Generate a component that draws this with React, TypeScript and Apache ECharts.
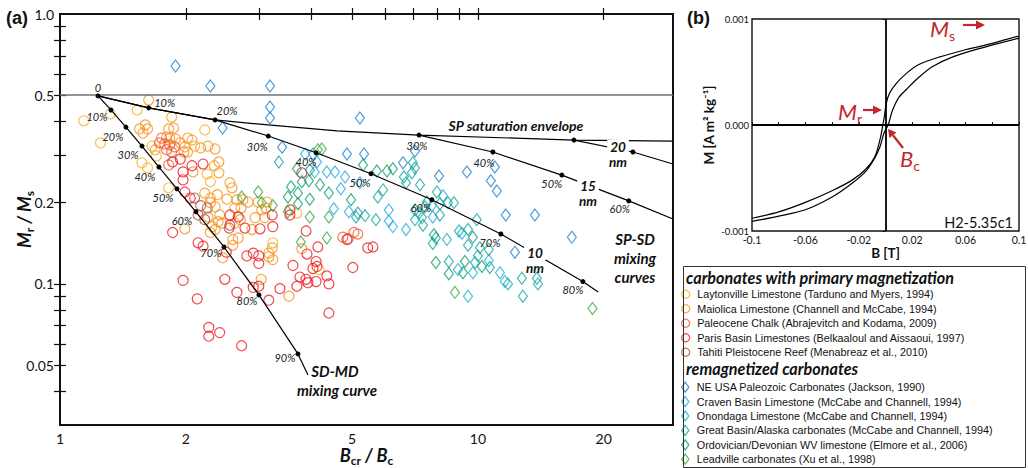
import React, { useEffect, useRef } from 'react';
import * as echarts from 'echarts';

// ---------- Panel (a): [Bcr/Bc, Mr/Ms] ----------
const laytonville = [[1.14,0.402],[1.25,0.333],[1.32,0.426],[1.53,0.441],[2.22,0.372],[1.66,0.324],[1.70,0.298],[2.10,0.324],[1.57,0.281],[1.62,0.269],[2.25,0.255],[2.29,0.239],[1.82,0.227],[3.69,0.183],[3.23,0.142],[4.17,0.113]];
const maiolica = [[1.63,0.480],[1.85,0.415],[1.55,0.375],[1.60,0.388],[1.62,0.375],[1.58,0.362],[1.82,0.375],[1.87,0.378],[1.80,0.350],[1.83,0.347],[1.89,0.344],[2.02,0.347],[1.99,0.322],[1.98,0.308],[2.17,0.319],[2.26,0.324],[2.35,0.316],[1.69,0.314],[2.34,0.274],[2.40,0.283],[2.40,0.258],[2.08,0.260],[2.55,0.237],[2.58,0.227],[2.22,0.217],[2.29,0.208],[2.38,0.214],[2.51,0.206],[2.02,0.308],[2.29,0.200],[2.35,0.193],[2.26,0.177],[2.41,0.180],[2.44,0.168],[2.31,0.163],[2.35,0.159],[2.29,0.155],[1.99,0.160],[2.45,0.125],[2.65,0.205],[2.74,0.205],[2.82,0.201],[2.62,0.191],[2.71,0.191],[2.98,0.201],[3.13,0.201],[3.04,0.188],[3.11,0.191],[2.70,0.173],[2.62,0.168],[2.88,0.159],[2.93,0.176],[3.09,0.176],[2.59,0.146],[2.67,0.148],[2.59,0.139],[3.16,0.130],[3.16,0.126],[3.23,0.123],[3.22,0.136],[3.79,0.135],[3.03,0.104],[3.53,0.090],[2.39,0.170],[1.94,0.333],[2.07,0.341]];
const paleocene = [[1.75,0.347],[1.73,0.333],[1.78,0.330],[1.83,0.327],[1.85,0.308],[1.82,0.276],[1.88,0.322],[1.80,0.314],[4.75,0.149],[4.89,0.147],[5.05,0.155],[5.16,0.153]];
const parisBasin = [[1.86,0.283],[1.94,0.290],[1.97,0.260],[1.97,0.243],[2.07,0.274],[2.20,0.278],[1.99,0.219],[2.05,0.208],[2.55,0.180],[2.55,0.165],[1.86,0.155],[2.14,0.142],[2.20,0.138],[2.50,0.131],[1.97,0.103],[2.48,0.104],[2.13,0.088],[2.27,0.069],[2.27,0.064],[2.41,0.066],[3.79,0.258],[3.55,0.188],[3.55,0.180],[3.22,0.180],[2.67,0.177],[2.77,0.161],[3.01,0.160],[3.23,0.163],[3.88,0.157],[2.80,0.127],[2.90,0.130],[2.99,0.127],[2.99,0.119],[3.90,0.129],[4.14,0.137],[3.61,0.117],[4.10,0.121],[4.12,0.116],[4.03,0.114],[3.75,0.106],[3.88,0.104],[3.92,0.101],[4.10,0.102],[4.35,0.107],[4.40,0.100],[3.69,0.098],[3.36,0.096],[2.99,0.098],[2.90,0.097],[2.65,0.093],[3.16,0.087],[4.40,0.078],[2.72,0.059],[4.86,0.146],[5.45,0.136],[5.61,0.137],[5.02,0.115]];
const tahiti = [[2.10,0.208],[2.17,0.195],[2.25,0.191],[2.14,0.180],[2.54,0.161],[2.22,0.173]];
const neUsa = [[1.89,0.642],[2.29,0.541],[3.18,0.541],[3.18,0.452],[3.18,0.412],[5.22,0.412],[2.45,0.378],[3.40,0.321],[7.07,0.311],[4.86,0.303],[5.34,0.303],[6.62,0.281],[8.07,0.251],[9.41,0.260],[10.98,0.271],[10.74,0.241],[11.10,0.221],[11.66,0.180],[13.69,0.180],[16.78,0.149],[12.26,0.131]];
const craven = [[3.86,0.303],[4.03,0.303],[4.12,0.283],[4.07,0.260],[4.35,0.260],[4.55,0.260],[4.81,0.249],[5.22,0.237],[4.70,0.225],[4.52,0.190],[4.91,0.185],[6.12,0.188],[6.12,0.171],[6.26,0.163],[6.73,0.159],[7.76,0.195],[7.80,0.177],[8.25,0.212],[8.43,0.146],[9.16,0.154]];
const onondaga = [[10.62,0.122],[11.29,0.110],[11.60,0.102],[8.96,0.113],[9.73,0.110],[9.47,0.090]];
const greatBasin = [[3.34,0.283],[5.93,0.223],[5.76,0.210],[5.16,0.183],[5.37,0.179],[5.11,0.177],[5.70,0.173],[6.99,0.281],[6.95,0.258],[7.07,0.269],[6.65,0.249],[6.73,0.237],[7.27,0.233],[7.98,0.219],[8.48,0.200],[8.76,0.200],[8.11,0.198],[7.47,0.193],[7.07,0.188],[7.23,0.183],[7.35,0.176],[7.39,0.165],[7.07,0.173],[8.11,0.180],[9.94,0.173],[7.93,0.148],[7.80,0.141],[9.01,0.157],[9.47,0.159],[9.47,0.139],[10.11,0.136],[10.62,0.134],[10.0,0.127],[9.84,0.120],[10.68,0.115],[11.80,0.100],[8.52,0.121],[12.74,0.105],[12.81,0.090],[13.84,0.105],[13.92,0.100]];
const ordovician = [[3.69,0.267],[3.96,0.264],[3.79,0.239],[3.94,0.241],[4.19,0.233],[3.57,0.229],[3.71,0.217],[4.40,0.217],[3.51,0.210],[3.71,0.198],[3.96,0.206],[4.97,0.205],[5.31,0.276],[5.73,0.262],[6.06,0.262],[6.26,0.267],[7.55,0.201],[7.85,0.152],[9.73,0.149],[10.22,0.116],[9.21,0.110],[7.93,0.120],[9.31,0.121],[8.52,0.109]];
const leadville = [[4.14,0.314],[4.23,0.316],[2.98,0.219],[2.72,0.210],[3.04,0.200],[3.23,0.195],[3.51,0.185],[3.96,0.177],[4.40,0.177],[4.35,0.148],[3.77,0.143],[8.81,0.093],[18.8,0.081]];

// mixing curves
const sdmdCurve = [[1.233,0.497],[1.324,0.441],[1.438,0.381],[1.571,0.324],[1.725,0.271],[1.905,0.225],[2.115,0.185],[2.468,0.137],[2.993,0.091],[3.710,0.055],[3.921,0.046]];
const sdmdLabels = ['0','10%','20%','30%','40%','50%','60%','70%','80%','90%',''];
const sp10Curve = [[1.233,0.497],[1.63,0.449],[2.35,0.405],[3.15,0.353],[4.10,0.306],[5.55,0.256],[7.76,0.205],[11.35,0.153],[17.83,0.102],[19.4,0.0934]];
const sp10Labels = ['','10%','20%','30%','40%','50%','60%','70%','80%',''];
const sp15Curve = [[7.23,0.356],[10.86,0.308],[15.88,0.253],[22.97,0.203],[29.3,0.174]];
const sp15Labels = ['30%','40%','50%','60%',''];
const sp20Curve = [[16.98,0.341],[23.49,0.308],[29.3,0.278]];
const envelopeCurve = [[1.233,0.497],[1.63,0.449],[2.35,0.405],[3.15,0.388],[4.6,0.369],[7.23,0.356],[16.98,0.341],[29.3,0.338]];
const saturationLevel = 0.5;

const xTickValues = [2,3,4,5,6,7,8,9,10,20];
const xLabelValues = [1,2,5,10,20];
const yTickValues = [0.04,0.05,0.06,0.07,0.08,0.09,0.1,0.2,0.3,0.4,0.5,0.6,0.7,0.8,0.9];
const yLabelValues = [0.05,0.1,0.2,0.5,1];
const xRange = [1, 29.3];
const yRange = [0.03, 1];

// ---------- Panel (b): hysteresis loop [B (T), M (A m2/kg)] ----------
const loopUpper = [[0.1,0.00084],[0.08,0.00077],[0.06,0.00071],[0.04,0.00064],[0.025,0.00057],[0.015,0.00048],[0.008,0.00039],[0.003,0.0003],[0.0005,0.0002],[-0.001,0.00007],[-0.002,0],[-0.004,-0.00013],[-0.008,-0.0003],[-0.015,-0.00042],[-0.025,-0.00052],[-0.04,-0.00062],[-0.06,-0.00073],[-0.08,-0.00082],[-0.1,-0.00088]];
const loopLower = [[-0.1,-0.00091],[-0.08,-0.00086],[-0.06,-0.0008],[-0.04,-0.00068],[-0.025,-0.00055],[-0.015,-0.00044],[-0.008,-0.00031],[-0.004,-0.0002],[-0.001,-0.00007],[0.002,0],[0.005,0.00013],[0.01,0.00026],[0.016,0.00034],[0.025,0.00045],[0.035,0.00055],[0.05,0.00064],[0.07,0.00072],[0.1,0.00082]];
const bTicks = [-0.1,-0.08,-0.06,-0.04,-0.02,0,0.02,0.04,0.06,0.08,0.1];
const bLabels = [-0.1,-0.06,-0.02,0.02,0.06,0.1];
const mLabels = [-0.001,0,0.001];

// ---------- styling/layout (not data) ----------
const FONT = 'Lato, "Liberation Sans", sans-serif';
const LFONT = '"Liberation Sans", Arial, sans-serif';
const RED = '#c1272d';
const sdmdOffsets = [[0,-8],[-14,7],[-13,9],[-14,8],[-14,9],[-14,9],[-14,9],[-13,6],[-12,6],[-13,4],[0,0]];
const sp10Offsets = [[0,0],[16,-5],[12,-9],[-11,10],[-10,9],[-11,9],[-11,8],[-11,8],[-10,8],[0,0]];
const sp15Offsets = [[-2,10],[-9,10],[-10,8],[-9,8],[0,0]];

const circleGroups = [
  { name: 'Laytonville Limestone (Tarduno and Myers, 1994)', data: laytonville, color: '#f9b122' },
  { name: 'Maiolica Limestone (Channell and McCabe, 1994)', data: maiolica, color: '#f7941d' },
  { name: 'Paleocene Chalk (Abrajevitch and Kodama, 2009)', data: paleocene, color: '#f15a29' },
  { name: 'Paris Basin Limestones (Belkaaloul and Aissaoui, 1997)', data: parisBasin, color: '#ed1c24' },
  { name: 'Tahiti Pleistocene Reef (Menabreaz et al., 2010)', data: tahiti, color: '#b5533c' },
];
const diamondGroups = [
  { name: 'NE USA Paleozoic Carbonates (Jackson, 1990)', data: neUsa, color: '#2382cf' },
  { name: 'Craven Basin Limestone (McCabe and Channell, 1994)', data: craven, color: '#27aae1' },
  { name: 'Onondaga Limestone (McCabe and Channell, 1994)', data: onondaga, color: '#1fb4d2' },
  { name: 'Great Basin/Alaska carbonates (McCabe and Channell, 1994)', data: greatBasin, color: '#12a89d' },
  { name: 'Ordovician/Devonian WV limestone (Elmore et al., 2006)', data: ordovician, color: '#10a070' },
  { name: 'Leadville carbonates (Xu et al., 1998)', data: leadville, color: '#3aab48' },
];

const lg = (v: number) => Math.log10(v);
const toLog = (pts: number[][]) => pts.map(([x, y]) => [lg(x), lg(y)]);

function curveData(pts: number[][], labels: string[], offsets: number[][], dots: boolean[]) {
  return pts.map(([x, y], i) => ({
    value: [lg(x), lg(y)],
    symbolSize: dots[i] ? 5 : 0,
    label: labels[i]
      ? { show: true, formatter: labels[i], offset: offsets[i] }
      : { show: false },
  }));
}

const pctLabel = {
  show: true,
  position: 'inside',
  color: '#222',
  fontFamily: FONT,
  fontStyle: 'italic',
  fontSize: 11,
};

function buildOption() {
  const logAxisCommon = {
    type: 'value',
    splitLine: { show: false },
    axisLine: { show: false },
  };
  const xlogFmt = (v: number) => String(Math.round(Math.pow(10, v)));
  const ylogFmt = (v: number) => {
    const n = Math.pow(10, v);
    if (Math.abs(n - 1) < 1e-6) return '1.0';
    return String(parseFloat(n.toPrecision(2)));
  };
  const tickStyle = { inside: true, length: 6, lineStyle: { color: '#111', width: 1.2 } };

  const scatter: any[] = [];
  circleGroups.forEach((g) =>
    scatter.push({
      name: g.name,
      type: 'scatter',
      xAxisIndex: 0,
      yAxisIndex: 0,
      symbol: 'circle',
      symbolSize: 10,
      itemStyle: { color: 'rgba(0,0,0,0)', borderColor: g.color, borderWidth: 1.2 },
      data: toLog(g.data),
      z: 2,
    })
  );
  diamondGroups.forEach((g) =>
    scatter.push({
      name: g.name,
      type: 'scatter',
      xAxisIndex: 0,
      yAxisIndex: 0,
      symbol: 'diamond',
      symbolSize: [9, 12],
      itemStyle: { color: 'rgba(0,0,0,0)', borderColor: g.color, borderWidth: 1.2 },
      data: toLog(g.data),
      z: 2,
    })
  );

  const lineCommon = {
    type: 'line',
    xAxisIndex: 0,
    yAxisIndex: 0,
    symbol: 'circle',
    itemStyle: { color: '#000' },
    lineStyle: { color: '#000', width: 1.2 },
    label: pctLabel,
    z: 5,
    silent: true,
  };

  const curves: any[] = [
    {
      ...lineCommon,
      name: 'envelope',
      symbolSize: 0,
      label: { show: false },
      data: toLog(envelopeCurve),
      markLine: {
        silent: true,
        symbol: ['none', 'none'],
        label: { show: false },
        lineStyle: { color: '#707070', width: 1.5, type: 'solid' },
        data: [{ yAxis: lg(saturationLevel) }],
      },
    },
    {
      ...lineCommon,
      name: 'sdmd',
      data: curveData(sdmdCurve, sdmdLabels, sdmdOffsets, sdmdCurve.map((_, i) => i < sdmdCurve.length - 1)),
    },
    {
      ...lineCommon,
      name: 'sp10',
      data: curveData(sp10Curve, sp10Labels, sp10Offsets, sp10Curve.map((_, i) => i > 0 && i < sp10Curve.length - 1)),
    },
    {
      ...lineCommon,
      name: 'sp15',
      data: curveData(sp15Curve, sp15Labels, sp15Offsets, sp15Curve.map((_, i) => i < sp15Curve.length - 1)),
    },
    {
      ...lineCommon,
      name: 'sp20',
      data: curveData(sp20Curve, ['', '', ''], [[0,0],[0,0],[0,0]], [true, true, false]),
    },
  ];

  const loopSeries: any[] = [
    {
      type: 'line',
      name: 'upper',
      xAxisIndex: 2,
      yAxisIndex: 2,
      smooth: 0.3,
      symbol: 'none',
      lineStyle: { color: '#000', width: 1.2 },
      data: loopUpper,
      silent: true,
      markLine: {
        silent: true,
        symbol: ['none', 'none'],
        label: { show: false },
        lineStyle: { color: '#000', width: 1.8, type: 'solid' },
        data: [{ xAxis: 0 }, { yAxis: 0 }],
      },
    },
    {
      type: 'line',
      name: 'lower',
      xAxisIndex: 2,
      yAxisIndex: 2,
      smooth: 0.3,
      symbol: 'none',
      lineStyle: { color: '#000', width: 1.2 },
      data: loopLower,
      silent: true,
    },
  ];

  const legendText = { fontSize: 10.8, fontFamily: LFONT, color: '#111', lineHeight: 14.5 };
  const legends = [
    {
      orient: 'vertical',
      left: 681,
      top: 287,
      padding: 0,
      itemGap: 0,
      itemWidth: 13,
      itemHeight: 8,
      selectedMode: false,
      textStyle: legendText,
      data: circleGroups.map((g) => ({
        name: g.name,
        icon: 'circle',
        itemStyle: { color: 'rgba(0,0,0,0)', borderColor: g.color, borderWidth: 1.3 },
      })),
    },
    {
      orient: 'vertical',
      left: 681,
      top: 380,
      padding: 0,
      itemGap: 0,
      itemWidth: 13,
      itemHeight: 10,
      selectedMode: false,
      textStyle: { ...legendText, lineHeight: 14.4 },
      data: diamondGroups.map((g) => ({
        name: g.name,
        icon: 'path://M0,-5L3.6,0L0,5L-3.6,0Z',
        itemStyle: { color: 'rgba(0,0,0,0)', borderColor: g.color, borderWidth: 1.3 },
      })),
    },
  ];

  const bi = (size: number) => ({ fontFamily: FONT, fontWeight: 'bold', fontStyle: 'italic', fontSize: size, fill: '#111' });
  const txt = (text: string, x: number, y: number, style: any, align = 'center', extra: any = {}) => ({
    type: 'text',
    x,
    y,
    z: 100,
    silent: true,
    style: { text, align, verticalAlign: 'middle', ...style, ...extra },
  });
  const gap = { backgroundColor: '#fff', padding: [0, 3] };

  const redRich = (main: string, sub: string, x: number, y: number) => ({
    type: 'text',
    x,
    y,
    z: 100,
    silent: true,
    style: {
      text: `{m|${main}}{s|${sub}}`,
      align: 'left',
      verticalAlign: 'middle',
      fill: RED,
      rich: {
        m: { fontFamily: FONT, fontStyle: 'italic', fontSize: 22, lineHeight: 28, fill: RED },
        s: { fontFamily: FONT, fontSize: 14, lineHeight: 14, verticalAlign: 'bottom', fill: RED },
      },
    },
  });
  const arrowLine = (x1: number, y1: number, x2: number, y2: number) => ({
    type: 'line', z: 100, silent: true,
    shape: { x1, y1, x2, y2 },
    style: { stroke: RED, lineWidth: 2.2 },
  });
  const arrowHead = (pts: number[][]) => ({
    type: 'polygon', z: 100, silent: true,
    shape: { points: pts },
    style: { fill: RED },
  });

  const graphic: any[] = [
    txt('(a)', 6, 18, { fontFamily: LFONT, fontWeight: 'bold', fontSize: 18, fill: '#111' }, 'left'),
    txt('(b)', 687, 18, { fontFamily: LFONT, fontWeight: 'bold', fontSize: 18, fill: '#111' }, 'left'),
    txt('SP saturation envelope', 516, 125, bi(14)),
    txt('20', 618, 147, bi(13.5), 'center', gap),
    txt('nm', 618, 162, bi(13.5)),
    txt('15', 588, 186, bi(13.5), 'center', gap),
    txt('nm', 588, 201, bi(13.5)),
    txt('10', 535, 253, bi(13.5), 'center', gap),
    txt('nm', 535, 268, bi(13.5)),
    txt('SP-SD', 635, 239, bi(15)),
    txt('mixing', 635, 258, bi(15)),
    txt('curves', 635, 277, bi(15)),
    txt('SD-MD', 335, 371, bi(15)),
    txt('mixing curve', 337, 390, bi(15)),
    txt('H2-5.35c1', 1013, 222, { fontFamily: FONT, fontSize: 14.5, fill: '#111' }, 'right'),
    redRich('M', 's', 930, 28.5),
    arrowLine(963, 25, 978, 25),
    arrowHead([[976, 20.5], [985, 25], [976, 29.5]]),
    redRich('M', 'r', 838, 111),
    arrowLine(863, 110, 875, 110),
    arrowHead([[873, 105.5], [882, 110], [873, 114.5]]),
    redRich('B', 'c', 900, 158),
    arrowLine(903, 148, 893, 135.3),
    arrowHead([[888, 129], [896.5, 132.5], [889.4, 138.1]]),
    {
      type: 'rect', z: 50, silent: true,
      shape: { x: 683.5, y: 266.5, width: 342, height: 201 },
      style: { fill: 'none', stroke: '#333', lineWidth: 1 },
    },
    txt('carbonates with primary magnetization', 686, 277, bi(16.2), 'left'),
    txt('remagnetized carbonates', 686, 368, bi(16.2), 'left'),
  ];

  const richName = (main: number, sub: number) => ({
    i: { fontFamily: FONT, fontWeight: 'bold', fontStyle: 'italic', fontSize: main, lineHeight: 22, color: '#111' },
    s: { fontFamily: FONT, fontWeight: 'bold', fontSize: sub, lineHeight: 11, verticalAlign: 'bottom', color: '#111' },
  });

  return {
    animation: false,
    backgroundColor: '#fff',
    grid: [
      { left: 60, top: 14, width: 613, height: 411, show: true, borderColor: '#111', borderWidth: 2, backgroundColor: 'rgba(0,0,0,0)', containLabel: false, outerBoundsMode: 'none' },
      { left: 752, top: 19, width: 267, height: 212, show: true, borderColor: '#111', borderWidth: 1.4, backgroundColor: 'rgba(0,0,0,0)', containLabel: false, outerBoundsMode: 'none' },
    ],
    xAxis: [
      {
        ...logAxisCommon,
        gridIndex: 0,
        position: 'bottom',
        min: lg(xRange[0]),
        max: lg(xRange[1]),
        axisTick: { ...tickStyle, customValues: xTickValues.map(lg) },
        axisLabel: { customValues: xLabelValues.map(lg), formatter: xlogFmt, fontFamily: FONT, fontSize: 14, color: '#111', margin: 6 },
        name: '{i|B}{s|cr}{i| / B}{s|c}',
        nameLocation: 'middle',
        nameGap: 19,
        nameMoveOverlap: false,
        nameTextStyle: { rich: richName(18, 12) },
      },
      {
        ...logAxisCommon,
        gridIndex: 0,
        position: 'top',
        min: lg(xRange[0]),
        max: lg(xRange[1]),
        axisTick: { ...tickStyle, customValues: xTickValues.map(lg) },
        axisLabel: { show: false },
      },
      {
        type: 'value',
        gridIndex: 1,
        min: -0.1,
        max: 0.1,
        splitLine: { show: false },
        axisLine: { show: false },
        axisTick: { inside: true, length: 3, customValues: bTicks, lineStyle: { color: '#111' } },
        axisLabel: {
          customValues: bLabels,
          formatter: (v: number) => String(parseFloat(v.toFixed(2))),
          fontFamily: FONT, fontSize: 10.5, color: '#111', margin: 3,
        },
        name: 'B [T]',
        nameLocation: 'middle',
        nameGap: 15,
        nameTextStyle: { fontFamily: FONT, fontWeight: 'bold', fontSize: 13.5, color: '#111' },
      },
    ],
    yAxis: [
      {
        ...logAxisCommon,
        gridIndex: 0,
        position: 'left',
        min: lg(yRange[0]),
        max: lg(yRange[1]),
        axisTick: { ...tickStyle, customValues: yTickValues.map(lg) },
        axisLabel: { customValues: yLabelValues.map(lg), formatter: ylogFmt, fontFamily: FONT, fontSize: 14, color: '#111', margin: 6 },
        name: '{i|M}{s|r}{i| / M}{s|s}',
        nameLocation: 'middle',
        nameGap: 25,
        nameMoveOverlap: false,
        nameTextStyle: { rich: richName(18, 12) },
      },
      {
        ...logAxisCommon,
        gridIndex: 0,
        position: 'right',
        min: lg(yRange[0]),
        max: lg(yRange[1]),
        axisTick: { ...tickStyle, customValues: yTickValues.map(lg) },
        axisLabel: { show: false },
      },
      {
        type: 'value',
        gridIndex: 1,
        min: -0.001,
        max: 0.001,
        splitLine: { show: false },
        axisLine: { show: false },
        axisTick: { inside: false, length: 3, customValues: mLabels, lineStyle: { color: '#111' } },
        axisLabel: {
          customValues: mLabels,
          formatter: (v: number) => v.toFixed(3),
          fontFamily: FONT, fontSize: 9.5, color: '#111', margin: 3,
        },
        name: 'M [A m² kg⁻¹]',
        nameLocation: 'middle',
        nameGap: 36,
        nameTextStyle: { fontFamily: FONT, fontWeight: 'bold', fontSize: 13.5, color: '#111' },
      },
    ],
    legend: legends,
    series: [...scatter, ...curves, ...loopSeries],
    graphic,
  };
}

export default function App() {
  const ref = useRef<HTMLDivElement>(null);
  useEffect(() => {
    const chart = echarts.init(ref.current!, null, { renderer: 'svg' });
    chart.setOption(buildOption() as any);
    return () => chart.dispose();
  }, []);
  return (
    <div
      ref={ref}
      style={{ position: 'absolute', left: 0, top: 0, width: 1028, height: 468 }}
    />
  );
}
